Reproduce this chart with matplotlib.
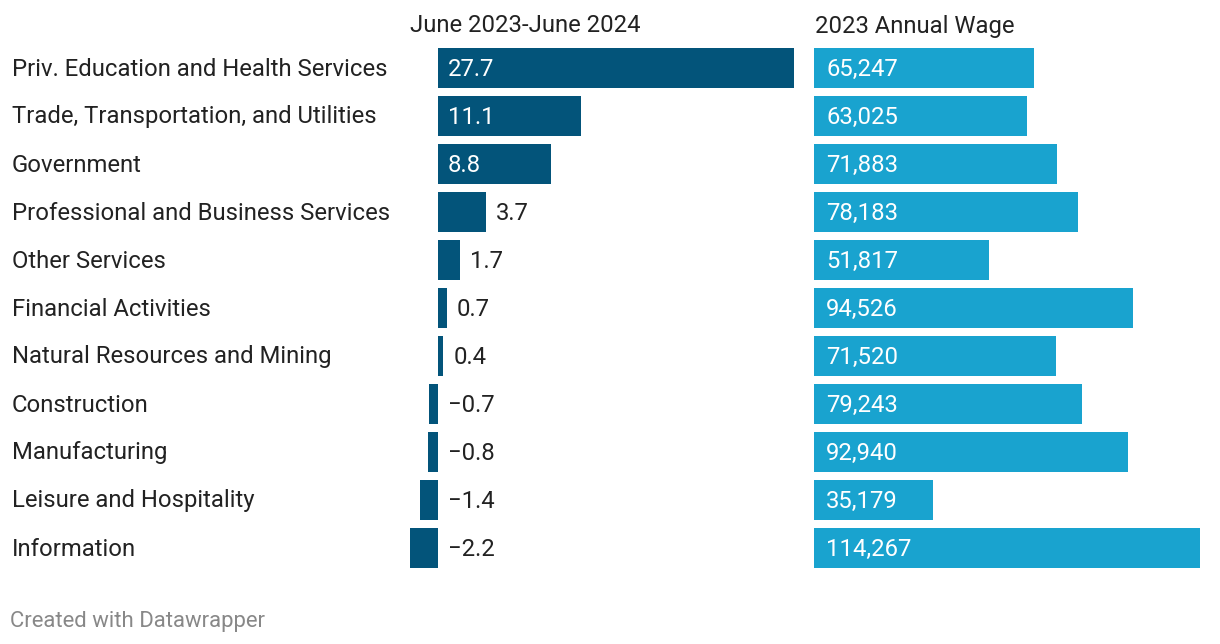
import matplotlib
matplotlib.use('Agg')
import matplotlib.pyplot as plt

plt.rcParams['font.family'] = ['Roboto', 'DejaVu Sans']

# data
industries = ['Priv. Education and Health Services', 'Trade, Transportation, and Utilities',
              'Government', 'Professional and Business Services', 'Other Services',
              'Financial Activities', 'Natural Resources and Mining', 'Construction',
              'Manufacturing', 'Leisure and Hospitality', 'Information']
change = [27.7, 11.1, 8.8, 3.7, 1.7, 0.7, 0.4, -0.7, -0.8, -1.4, -2.2]
wage = [65247, 63025, 71883, 78183, 51817, 94526, 71520, 79243, 92940, 35179, 114267]
headers = ['June 2023-June 2024', '2023 Annual Wage']

W, H = 1220, 644
dark = '#03547a'
light = '#19a3cf'
txt = '#222222'

fig = plt.figure(figsize=(W / 100, H / 100), dpi=100)

# pixel helpers
def box(x0, x1, y0, y1):
    return [x0 / W, 1 - y1 / H, (x1 - x0) / W, (y1 - y0) / H]

# left panel: zero at x=438, 12.85 px per unit
px_l = 356 / 27.7
ax1 = fig.add_axes(box(400, 800, 44, 572))
ax1.set_xlim((400 - 438) / px_l, (800 - 438) / px_l)
# right panel: zero at x=814
px_r = 386 / 114267
ax2 = fig.add_axes(box(814, 1210, 44, 572))
ax2.set_xlim(0, 396 / px_r)

n = len(industries)
ypos = list(range(n))
ax1.barh(ypos, change, height=40 / 48, color=dark)
ax2.barh(ypos, wage, height=40 / 48, color=light)

for ax in (ax1, ax2):
    ax.set_ylim(n - 0.5, -0.5)
    ax.axis('off')

fs = 17.2
dy = -1  # nudge text down a pixel
for i, (c, w) in enumerate(zip(change, wage)):
    lab = f'{c:.1f}'.replace('-', '\u2212')
    if c >= 5:
        ax1.annotate(lab, (0, i), xytext=(10, dy), textcoords='offset pixels',
                     ha='left', va='center', color='white', fontsize=fs)
    else:
        ax1.annotate(lab, (max(c, 0), i), xytext=(10, dy), textcoords='offset pixels',
                     ha='left', va='center', color=txt, fontsize=fs)
    ax2.annotate(f'{w:,}', (0, i), xytext=(12, dy), textcoords='offset pixels',
                 ha='left', va='center', color='white', fontsize=fs)
    fig.text(12 / W, 1 - (69 + 48 * i) / H, industries[i], ha='left', va='center',
             color=txt, fontsize=fs)

fig.text(410 / W, 1 - 26 / H, headers[0], ha='left', va='center', color=txt, fontsize=fs)
fig.text(815 / W, 1 - 26 / H, headers[1], ha='left', va='center', color=txt, fontsize=fs)
fig.text(10 / W, 1 - 621 / H, 'Created with Datawrapper', ha='left', va='center',
         color='#888888', fontsize=15.9)

fig.savefig('out.png', dpi=100)
